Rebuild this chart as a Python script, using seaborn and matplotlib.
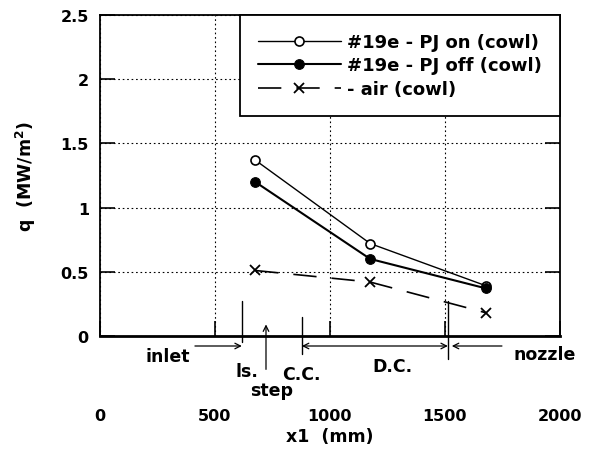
import matplotlib
matplotlib.use("Agg")
import matplotlib.pyplot as plt
import seaborn as sns
import pandas as pd

x_mm = [675, 1175, 1680]
q_pj_on = [1.37, 0.72, 0.39]
q_pj_off = [1.20, 0.60, 0.37]
q_air = [0.51, 0.42, 0.18]
labels = ["#19e - PJ on (cowl)", "#19e - PJ off (cowl)", "- air (cowl)"]
xticks = [0, 500, 1000, 1500, 2000]
yticks = [0, 0.5, 1, 1.5, 2, 2.5]
ytick_labels = ["0", "0.5", "1", "1.5", "2", "2.5"]

sns.set_style("white")
plt.rcParams["font.family"] = ["DejaVu Sans"]
plt.rcParams["font.weight"] = "bold"
plt.rcParams["axes.labelweight"] = "bold"
plt.rcParams["mathtext.default"] = "bf"
plt.rcParams["text.color"] = "black"
plt.rcParams["axes.labelcolor"] = "black"
plt.rcParams["xtick.color"] = "black"
plt.rcParams["ytick.color"] = "black"

df_on = pd.DataFrame({"x": x_mm, "q": q_pj_on})
df_off = pd.DataFrame({"x": x_mm, "q": q_pj_off})
df_air = pd.DataFrame({"x": x_mm, "q": q_air})

fig = plt.figure(figsize=(5.95, 4.56), dpi=100)
ax = fig.add_axes([0.168, 0.261, 0.773, 0.704])

sns.lineplot(data=df_on, x="x", y="q", ax=ax, color="black", lw=1.0,
             marker="o", markersize=6.5, markerfacecolor="white",
             markeredgecolor="black", markeredgewidth=1.2, label=labels[0])
sns.lineplot(data=df_off, x="x", y="q", ax=ax, color="black", lw=1.5,
             marker="o", markersize=7, markerfacecolor="black",
             markeredgecolor="black", label=labels[1])
sns.lineplot(data=df_air, x="x", y="q", ax=ax, color="black", lw=1.2,
             marker="x", markersize=7, markeredgewidth=1.3,
             markeredgecolor="black", markerfacecolor="black",
             label=labels[2])
ax.lines[2].set_dashes([14, 9])

ax.set_xlim(0, 2000)
ax.set_ylim(0, 2.5)
ax.set_xticks(xticks)
ax.set_xticklabels([str(v) for v in xticks])
ax.set_yticks(yticks)
ax.set_yticklabels(ytick_labels)
ax.grid(True, linestyle=(0, (1.5, 2.5)), color="black", lw=0.8)
ax.tick_params(axis="both", direction="in", length=11, width=1.2,
               labelsize=11.5, colors="black", labelcolor="black")
ax.tick_params(axis="x", pad=52, top=False, bottom=True)
ax.tick_params(axis="y", left=True, right=True, pad=8)
for s in ax.spines.values():
    s.set_color("black")
    s.set_linewidth(1.3)
ax.spines["bottom"].set_linewidth(2.0)

ax.set_xlabel("x1  (mm)", fontsize=12.5, labelpad=3, color="black")
ax.set_ylabel("q  (MW/m$^2$)", fontsize=12.5, labelpad=16, color="black")

leg = ax.legend(loc="upper right", bbox_to_anchor=(1.0, 1.0),
                borderaxespad=0, fancybox=False, framealpha=1,
                edgecolor="black", prop={"size": 13, "weight": "bold"},
                handlelength=4.6, handletextpad=0.35, labelspacing=0.3,
                borderpad=1.0, labelcolor="black")
leg.get_frame().set_linewidth(1.3)

# Region annotations below the axis
kw = dict(color="black", lw=1.0, clip_on=False)
ax.plot([617, 617], [0.27, -0.05], **kw)
ax.plot([878, 878], [0.15, -0.14], **kw)
ax.plot([1513, 1513], [0.27, -0.18], **kw)
arrow = dict(arrowstyle="->", color="black", lw=0.9, shrinkA=0, shrinkB=0)
ax.annotate("", xy=(617, -0.078), xytext=(413, -0.078),
            arrowprops=arrow, annotation_clip=False)
ax.annotate("", xy=(722, 0.09), xytext=(722, -0.26),
            arrowprops=arrow, annotation_clip=False)
ax.annotate("", xy=(1513, -0.078), xytext=(878, -0.078),
            arrowprops=dict(arrowstyle="<->", color="black", lw=0.9,
                            shrinkA=0, shrinkB=0), annotation_clip=False)
ax.annotate("", xy=(1530, -0.078), xytext=(1748, -0.078),
            arrowprops=arrow, annotation_clip=False)
tkw = dict(fontsize=12.5, ha="center", va="center", color="black",
           clip_on=False, fontweight="bold")
ax.text(296, -0.156, "inlet", **tkw)
ax.text(639, -0.273, "ls.", **tkw)
ax.text(748, -0.42, "step", **tkw)
ax.text(874, -0.296, "C.C.", **tkw)
ax.text(1270, -0.23, "D.C.", **tkw)
ax.text(1933, -0.14, "nozzle", **tkw)

fig.savefig("out.png", dpi=100)
